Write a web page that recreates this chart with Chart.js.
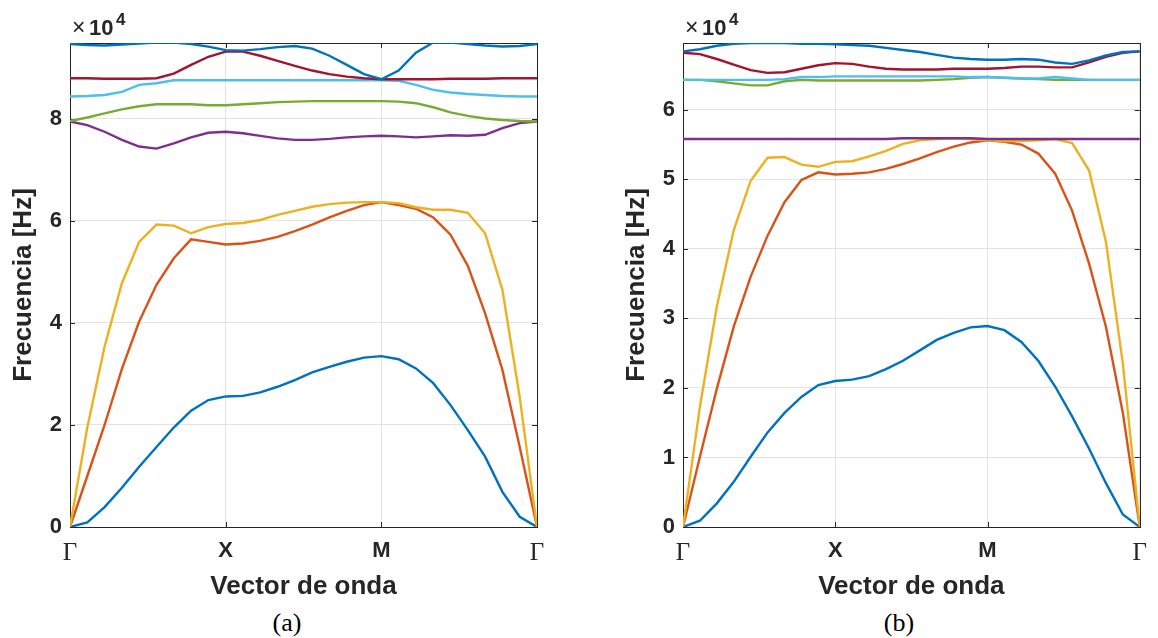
<!DOCTYPE html>
<html>
<head>
<meta charset="utf-8">
<script src="https://cdn.jsdelivr.net/npm/chart.js@4.4.1/dist/chart.umd.min.js"></script>
<style>
  html, body { margin: 0; padding: 0; background: #fff; }
  #wrap { position: relative; width: 1158px; height: 638px; overflow: hidden; }
  canvas { position: absolute; top: 0; }
  #chart-a { left: 0; }
  #chart-b { left: 613px; }
  .cap { position: absolute; top: 608px; font: 26px "Liberation Serif", "DejaVu Serif", serif; color: #000; transform: translateX(-50%); }
</style>
</head>
<body>
<div id="wrap">
  <canvas id="chart-a" width="560" height="602"></canvas>
  <canvas id="chart-b" width="545" height="602"></canvas>
  <div class="cap" style="left:287px">(a)</div>
  <div class="cap" style="left:899px">(b)</div>
</div>
<script>
// k-path: Γ -> X -> M -> Γ, 9 steps per segment
const kIndex = [0, 9, 18, 27];
const kLabels = ['Γ', 'X', 'M', 'Γ'];

// frequencies in units of 1e4 Hz, bands 1..8 (panel a)
const a1 = [0, 0.09, 0.39, 0.77, 1.18, 1.57, 1.95, 2.28, 2.49, 2.56, 2.57, 2.64, 2.75, 2.88, 3.03, 3.14, 3.24, 3.32, 3.35, 3.29, 3.11, 2.82, 2.39, 1.90, 1.38, 0.69, 0.20, 0];
const a2 = [0, 1.00, 2.00, 3.10, 4.03, 4.75, 5.27, 5.64, 5.59, 5.54, 5.56, 5.61, 5.69, 5.80, 5.93, 6.07, 6.20, 6.31, 6.37, 6.31, 6.24, 6.07, 5.73, 5.12, 4.19, 3.08, 1.57, 0];
const a3 = [0, 1.95, 3.54, 4.78, 5.59, 5.93, 5.91, 5.76, 5.88, 5.94, 5.96, 6.02, 6.12, 6.20, 6.28, 6.33, 6.36, 6.37, 6.37, 6.35, 6.27, 6.22, 6.22, 6.16, 5.76, 4.65, 2.55, 0];
const a4 = [7.95, 7.88, 7.75, 7.59, 7.46, 7.42, 7.52, 7.64, 7.73, 7.75, 7.72, 7.67, 7.62, 7.59, 7.59, 7.61, 7.64, 7.66, 7.67, 7.66, 7.64, 7.66, 7.68, 7.67, 7.69, 7.82, 7.92, 7.95];
const a5 = [7.96, 8.03, 8.11, 8.19, 8.25, 8.29, 8.29, 8.29, 8.27, 8.27, 8.29, 8.31, 8.33, 8.34, 8.35, 8.35, 8.35, 8.35, 8.35, 8.34, 8.31, 8.23, 8.13, 8.06, 8.01, 7.98, 7.96, 7.95];
const a6 = [8.44, 8.45, 8.47, 8.53, 8.67, 8.70, 8.76, 8.76, 8.76, 8.76, 8.76, 8.76, 8.76, 8.76, 8.76, 8.76, 8.76, 8.76, 8.76, 8.75, 8.67, 8.57, 8.52, 8.49, 8.47, 8.45, 8.44, 8.44];
const a7 = [8.80, 8.80, 8.79, 8.79, 8.79, 8.80, 8.89, 9.06, 9.22, 9.32, 9.32, 9.24, 9.14, 9.04, 8.95, 8.88, 8.83, 8.80, 8.78, 8.78, 8.78, 8.78, 8.79, 8.79, 8.79, 8.80, 8.80, 8.80];
const a8 = [9.47, 9.45, 9.44, 9.46, 9.48, 9.50, 9.50, 9.47, 9.42, 9.35, 9.34, 9.37, 9.41, 9.43, 9.38, 9.24, 9.06, 8.88, 8.78, 8.95, 9.30, 9.50, 9.50, 9.47, 9.44, 9.42, 9.43, 9.47];

// panel b
const b1 = [0, 0.09, 0.34, 0.65, 1.01, 1.36, 1.64, 1.87, 2.04, 2.10, 2.12, 2.17, 2.27, 2.39, 2.54, 2.69, 2.79, 2.87, 2.89, 2.83, 2.66, 2.39, 2.02, 1.59, 1.13, 0.63, 0.18, 0];
const b2 = [0, 1.01, 1.99, 2.88, 3.60, 4.19, 4.67, 4.99, 5.10, 5.07, 5.08, 5.10, 5.15, 5.22, 5.30, 5.39, 5.47, 5.53, 5.56, 5.54, 5.50, 5.37, 5.08, 4.55, 3.79, 2.88, 1.64, 0];
const b3 = [0, 1.73, 3.17, 4.27, 4.98, 5.31, 5.32, 5.21, 5.18, 5.25, 5.26, 5.33, 5.41, 5.51, 5.56, 5.58, 5.59, 5.58, 5.56, 5.55, 5.55, 5.56, 5.58, 5.52, 5.13, 4.10, 2.35, 0];
const b4 = [5.58, 5.58, 5.58, 5.58, 5.58, 5.58, 5.58, 5.58, 5.58, 5.58, 5.58, 5.58, 5.58, 5.59, 5.59, 5.59, 5.59, 5.59, 5.58, 5.58, 5.58, 5.58, 5.58, 5.58, 5.58, 5.58, 5.58, 5.58];
const b5 = [6.43, 6.43, 6.41, 6.38, 6.35, 6.35, 6.41, 6.43, 6.42, 6.42, 6.42, 6.42, 6.42, 6.42, 6.42, 6.43, 6.44, 6.46, 6.47, 6.46, 6.45, 6.44, 6.43, 6.43, 6.43, 6.43, 6.43, 6.43];
const b6 = [6.43, 6.43, 6.43, 6.43, 6.43, 6.43, 6.44, 6.47, 6.47, 6.48, 6.48, 6.48, 6.48, 6.48, 6.48, 6.48, 6.48, 6.47, 6.47, 6.46, 6.45, 6.45, 6.47, 6.45, 6.43, 6.43, 6.43, 6.43];
const b7 = [6.82, 6.80, 6.73, 6.65, 6.57, 6.53, 6.54, 6.59, 6.64, 6.67, 6.66, 6.62, 6.59, 6.58, 6.58, 6.58, 6.59, 6.59, 6.59, 6.60, 6.62, 6.62, 6.61, 6.61, 6.68, 6.76, 6.82, 6.84];
const b8 = [6.84, 6.87, 6.92, 6.95, 6.96, 6.96, 6.96, 6.95, 6.95, 6.94, 6.93, 6.92, 6.89, 6.86, 6.83, 6.79, 6.75, 6.73, 6.72, 6.72, 6.73, 6.72, 6.68, 6.66, 6.71, 6.78, 6.83, 6.84];

const colors = ['#0072BD', '#D95319', '#EDB120', '#7E2F8E', '#77AC30', '#4DBEEE', '#A2142F', '#0072BD'];
const textColor = '#262626';
const gridColor = '#e3e3e3';
const sans = '"Liberation Sans", Arial, sans-serif';
const serif = '"Liberation Serif", "DejaVu Serif", serif';

// box around the axes with inward ticks, plus the x10^4 exponent label
const framePlugin = {
  id: 'frame',
  beforeDatasetsDraw(chart) {
    const { ctx, chartArea: a, scales } = chart;
    const tl = 5;
    ctx.save();
    ctx.strokeStyle = textColor;
    ctx.lineWidth = 1;
    ctx.strokeRect(Math.round(a.left) + 0.5, Math.round(a.top) + 0.5, Math.round(a.right - a.left), Math.round(a.bottom - a.top));
    ctx.beginPath();
    scales.x.ticks.forEach(t => {
      const px = Math.round(scales.x.getPixelForValue(t.value)) + 0.5;
      ctx.moveTo(px, a.bottom); ctx.lineTo(px, a.bottom - tl);
      ctx.moveTo(px, a.top); ctx.lineTo(px, a.top + tl);
    });
    scales.y.ticks.forEach(t => {
      const py = Math.round(scales.y.getPixelForValue(t.value)) + 0.5;
      ctx.moveTo(a.left, py); ctx.lineTo(a.left + tl, py);
      ctx.moveTo(a.right, py); ctx.lineTo(a.right - tl, py);
    });
    ctx.stroke();
    ctx.restore();
  },
  afterDraw(chart) {
    const { ctx, chartArea: a } = chart;
    ctx.save();
    ctx.fillStyle = textColor;
    ctx.textBaseline = 'alphabetic';
    ctx.font = '23px ' + sans;
    ctx.fillText('×', a.left + 2, a.top - 8);
    ctx.font = 'bold 22px ' + sans;
    ctx.fillText('10', a.left + 19, a.top - 8);
    ctx.font = 'bold 17px ' + sans;
    ctx.fillText('4', a.left + 46, a.top - 18);
    ctx.restore();
  }
};

function makeChart(id, bands, yMax, yStep, padRight) {
  return new Chart(document.getElementById(id), {
    type: 'line',
    data: {
      datasets: bands.map((vals, i) => ({
        data: vals.map((v, k) => ({ x: k, y: v })),
        borderColor: colors[i],
        borderWidth: 2.4,
        pointRadius: 0,
        tension: 0,
        fill: false,
        order: bands.length - i
      }))
    },
    options: {
      responsive: false,
      animation: false,
      events: [],
      layout: { padding: { top: 43, right: padRight, left: 0, bottom: 0 } },
      plugins: { legend: { display: false }, tooltip: { enabled: false } },
      scales: {
        x: {
          type: 'linear', min: 0, max: 27,
          afterBuildTicks: s => { s.ticks = kIndex.map(v => ({ value: v })); },
          afterFit: s => { s.height = 75; },
          grid: { color: gridColor, drawTicks: false },
          border: { display: false },
          ticks: {
            padding: 11, color: textColor, maxRotation: 0, autoSkip: false,
            callback: v => kLabels[kIndex.indexOf(v)],
            font: ctx => (ctx.tick && (ctx.tick.value === 0 || ctx.tick.value === 27))
              ? { family: serif, size: 25, weight: 'normal' }
              : { family: sans, size: 22, weight: 'bold' }
          },
          title: {
            display: true, text: 'Vector de onda', color: textColor,
            font: { family: sans, size: 26, weight: 'bold' },
            padding: { top: 0, bottom: 0 }
          }
        },
        y: {
          min: 0, max: yMax,
          afterFit: s => { s.width = 70; },
          grid: { color: gridColor, drawTicks: false },
          border: { display: false },
          ticks: {
            stepSize: yStep, includeBounds: false, padding: 8, color: textColor,
            font: { family: sans, size: 22, weight: 'bold' }
          },
          title: {
            display: true, text: 'Frecuencia [Hz]', color: textColor,
            font: { family: sans, size: 26, weight: 'bold' },
            padding: { top: 8, bottom: 0 }
          }
        }
      }
    },
    plugins: [framePlugin]
  });
}

makeChart('chart-a', [a1, a2, a3, a4, a5, a6, a7, a8], 9.49, 2, 23);
makeChart('chart-b', [b1, b2, b3, b4, b5, b6, b7, b8], 6.96, 1, 9);
</script>
</body>
</html>
